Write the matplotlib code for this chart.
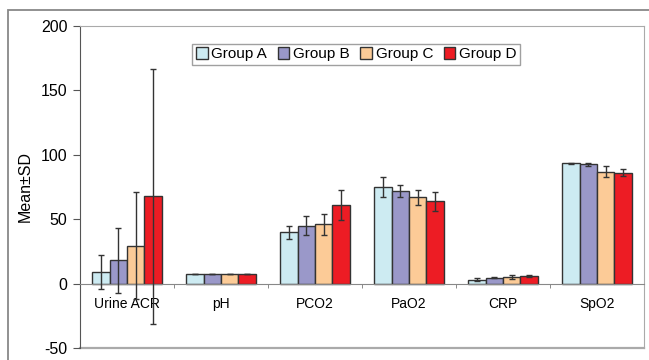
import matplotlib
matplotlib.use("Agg")
import matplotlib.pyplot as plt
import numpy as np
from matplotlib.patches import Rectangle

plt.rcParams['font.family'] = ['Liberation Sans', 'DejaVu Sans']
plt.rcParams['axes.unicode_minus'] = False

categories = ["Urine ACR", "pH", "PCO2", "PaO2", "CRP", "SpO2"]
groups = ["Group A", "Group B", "Group C", "Group D"]
means = {
    "Group A": [9, 7.4, 40, 75, 3, 93.5],
    "Group B": [18, 7.4, 45, 72, 4.5, 92.5],
    "Group C": [29.5, 7.4, 46, 67, 5.3, 87],
    "Group D": [67.7, 7.4, 61, 64, 5.8, 86.2],
}
sds = {
    "Group A": [13, 0.05, 5, 7.8, 1, 0.5],
    "Group B": [25.5, 0.05, 7.3, 4.5, 0.5, 1.5],
    "Group C": [41.5, 0.05, 8, 6, 1.7, 4.3],
    "Group D": [99, 0.05, 11.5, 7.5, 1, 3],
}
colors = ["#cdebf2", "#9a98c9", "#fccb97", "#ed1c24"]

fig = plt.figure(figsize=(6.49, 3.6), dpi=100)
ax = fig.add_axes([80/649, 12/360, 564/649, 322/360])

x = np.arange(len(categories))
bw = 0.184
for i, g in enumerate(groups):
    pos = x + (i - 1.5) * bw
    ax.bar(pos, means[g], bw, color=colors[i], edgecolor="#333333", linewidth=1.0,
           label=g, zorder=2)
    ax.errorbar(pos, means[g], yerr=sds[g], fmt="none", ecolor="#333333",
                elinewidth=1.0, capsize=2.5, capthick=1.0, zorder=3)

ax.set_xlim(-0.5, len(categories) - 0.5)
ax.set_ylim(-50, 200)
ax.set_yticks([-50, 0, 50, 100, 150, 200])
ax.set_xticks(x)
ax.set_xticklabels(categories, fontsize=12)
ax.set_xticks(np.arange(len(categories) + 1) - 0.5, minor=True)
ax.tick_params(axis="x", which="major", length=0, pad=10)
ax.tick_params(axis="x", which="minor", length=3, direction="out", color="#777777")
ax.tick_params(axis="y", length=5, direction="out", color="#555555", labelsize=11.5, pad=4)

ax.spines["bottom"].set_position(("data", 0))
ax.spines["bottom"].set_color("#888888")
ax.spines["left"].set_color("#555555")
ax.spines["top"].set_color("#aaaaaa")
ax.spines["right"].set_color("#aaaaaa")
ax.axhline(-50, color="#aaaaaa", linewidth=1.6, clip_on=False, zorder=1)

ax.set_ylabel("Mean±SD", fontsize=11.5)
ax.yaxis.set_label_coords(-0.083, 0.5)

leg = ax.legend(loc="center", bbox_to_anchor=(0.49, 0.912), ncol=4, fontsize=11,
                frameon=True, fancybox=False, edgecolor="#888888",
                handlelength=0.75, handleheight=0.75, handletextpad=0.25,
                columnspacing=0.7, borderpad=0.25, borderaxespad=0)
leg.get_frame().set_linewidth(1.0)

fig.patches.append(Rectangle((8/649, -0.1), 1.1, 1 - 10/360 + 0.1, transform=fig.transFigure,
                             fill=False, edgecolor="#888888", linewidth=1.3))

fig.savefig("out.png", dpi=100)
